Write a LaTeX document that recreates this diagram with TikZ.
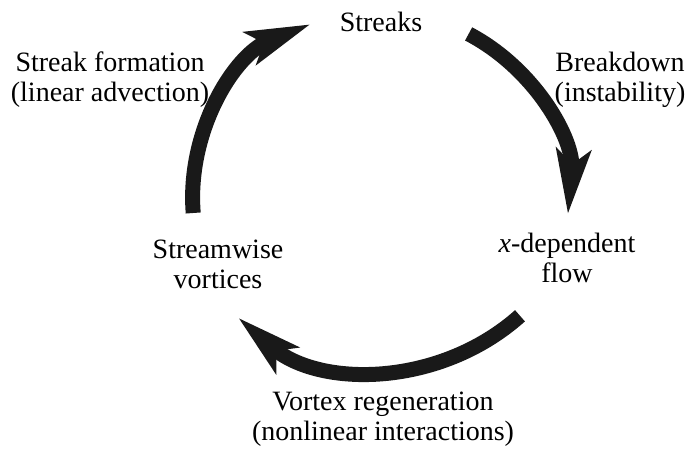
\documentclass[tikz,border=0pt]{standalone}
\usepackage{fontspec}
\setmainfont{Liberation Serif}
\usetikzlibrary{arrows.meta}
\begin{document}
\begin{tikzpicture}[x=1pt,y=1pt,
  lbl/.style={font=\fontsize{28}{30}\selectfont, align=center, inner sep=0pt, anchor=base},
  cyc/.style={line width=15pt, draw=black!90, -{Stealth[length=64pt,width=34pt,inset=14pt]}}]
\useasboundingbox (0,0) rectangle (700,456);
\node[lbl] (streaks) at (381,424) {Streaks};
\node[lbl] (form) at (110,354) {Streak formation\\(linear advection)};
\node[lbl] (brk) at (620,354) {Breakdown\\(instability)};
\node[lbl] (sv) at (218,168) {Streamwise\\vortices};
\node[lbl] (xd) at (567,174) {\textit{x}-dependent\\flow};
\node[lbl] (vr) at (383,16) {Vortex regeneration\\(nonlinear interactions)};
\coordinate (c1) at (379.6,258);
\coordinate (c2) at (378,299);
\draw[cyc] ([shift={(184.6:187)}]c1) arc[start angle=184.6, end angle=111.7, radius=187];
\draw[cyc] ([shift={(61.9:189 and 186)}]c1) arc[start angle=61.9, end angle=-5, x radius=189, y radius=186];
\draw[cyc] ([shift={(-48.2:213)}]c2) arc[start angle=-48.2, end angle=-131, radius=213];
\end{tikzpicture}
\end{document}
